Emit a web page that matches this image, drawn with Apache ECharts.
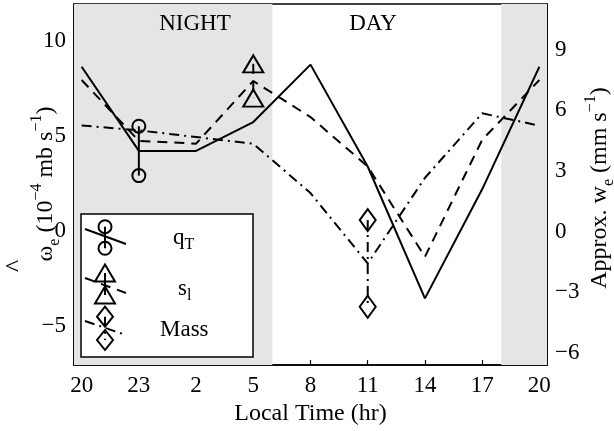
<!DOCTYPE html>
<html>
<head>
<meta charset="utf-8">
<style>
  html, body { margin: 0; padding: 0; background: #fff; }
  #chart { width: 614px; height: 431px; }
</style>
<script src="https://cdn.jsdelivr.net/npm/echarts@6/dist/echarts.min.js"></script>
</head>
<body>
<div id="chart"></div>
<script>
// ---- data ----
const hourLabels = ['20', '23', '2', '5', '8', '11', '14', '17', '20'];
const elapsed = [0, 3, 6, 9, 12, 15, 18, 21, 24];          // hours since 20 LT
const qT   = [8.65, 4.22, 4.22, 5.74, 8.76, 3.4, -3.54, 2.2, 8.65];
const sl   = [7.95, 4.75, 4.6, 7.9, 6.0, 3.4, -1.35, 4.8, 7.95];
const mass = [5.56, 5.3, 4.95, 4.6, 2.0, -1.7, 2.8, 6.2, 5.55];
// error bars: [elapsed, upper, lower]
const qTErr   = [3, 5.52, 2.92];
const slErr   = [9, 8.8, 7.0];
const massErr = [15, 0.58, -3.98];
const nightSpans = [[-0.4, 10], [22, 24.4]];
const leftTicks = [-5, 0, 5, 10];
const rightTicks = [-6, -3, 0, 3, 6, 9];

const FONT = 'Liberation Serif';
const dashed = [10, 7];
const dashDot = [10, 5, 2, 5];

const chart = echarts.init(document.getElementById('chart'), null, { renderer: 'canvas' });

function pairs(ys) { return elapsed.map((x, i) => [x, ys[i]]); }
function errSeries(e, symbol, size, type) {
  return {
    type: 'line',
    data: [[e[0], e[1]], [e[0], e[2]]],
    symbol: symbol,
    symbolSize: size,
    showSymbol: true,
    lineStyle: { color: '#000', width: 2, type: type },
    itemStyle: { color: 'rgba(0,0,0,0)', borderColor: '#000', borderWidth: 2 },
    z: 5,
    silent: true,
    animation: false
  };
}

const lblStyle = { fontFamily: FONT, fontSize: 23, color: '#000' };
const stroke2 = { stroke: '#000', lineWidth: 2, fill: null };

const legendEls = [
  { type: 'rect', shape: { x: 81, y: 214, width: 172, height: 143 }, style: { fill: '#fff', stroke: '#000', lineWidth: 1.5 } },
  // q_T
  { type: 'line', shape: { x1: 85, y1: 229, x2: 126, y2: 244 }, style: { stroke: '#000', lineWidth: 2 } },
  { type: 'line', shape: { x1: 105, y1: 226.7, x2: 105, y2: 248.3 }, style: { stroke: '#000', lineWidth: 2 } },
  { type: 'circle', shape: { cx: 105, cy: 226.7, r: 6.5 }, style: stroke2 },
  { type: 'circle', shape: { cx: 105, cy: 248.3, r: 6.5 }, style: stroke2 },
  { type: 'text', x: 173, y: 238, style: { text: '{n|q}{sub|T}', align: 'left', verticalAlign: 'middle',
    rich: { n: { fontFamily: FONT, fontSize: 23, lineHeight: 30, fill: '#000' }, sub: { fontFamily: FONT, fontSize: 16, lineHeight: 16, verticalAlign: 'bottom', fill: '#000' } } } },
  // s_l
  { type: 'line', shape: { x1: 85, y1: 278, x2: 126, y2: 293 }, style: { stroke: '#000', lineWidth: 2, lineDash: dashed } },
  { type: 'line', shape: { x1: 105, y1: 273, x2: 105, y2: 295 }, style: { stroke: '#000', lineWidth: 2 } },
  { type: 'polygon', shape: { points: [[105, 264.5], [115, 281.5], [95, 281.5]] }, style: stroke2 },
  { type: 'polygon', shape: { points: [[105, 286.5], [115, 303.5], [95, 303.5]] }, style: stroke2 },
  { type: 'text', x: 178, y: 289, style: { text: '{n|s}{sub|l}', align: 'left', verticalAlign: 'middle',
    rich: { n: { fontFamily: FONT, fontSize: 23, lineHeight: 30, fill: '#000' }, sub: { fontFamily: FONT, fontSize: 16, lineHeight: 16, verticalAlign: 'bottom', fill: '#000' } } } },
  // Mass
  { type: 'line', shape: { x1: 85, y1: 321, x2: 126, y2: 335 }, style: { stroke: '#000', lineWidth: 2, lineDash: dashDot } },
  { type: 'line', shape: { x1: 105, y1: 316.7, x2: 105, y2: 340 }, style: { stroke: '#000', lineWidth: 2, lineDash: dashDot } },
  { type: 'polygon', shape: { points: [[105, 306.7], [113, 316.7], [105, 326.7], [97, 316.7]] }, style: stroke2 },
  { type: 'polygon', shape: { points: [[105, 330], [113, 340], [105, 350], [97, 340]] }, style: stroke2 },
  { type: 'text', x: 160, y: 330, style: { text: 'Mass', fontFamily: FONT, fontSize: 23, fill: '#000', align: 'left', verticalAlign: 'middle' } }
].map(el => Object.assign({ z: 100, silent: true }, el));

const option = {
  animation: false,
  backgroundColor: '#fff',
  grid: { left: 74, right: 67, top: 4, bottom: 64, show: true, borderColor: '#000', borderWidth: 1.5, backgroundColor: 'rgba(0,0,0,0)' },
  xAxis: {
    type: 'value',
    min: -0.4, max: 24.4,
    splitLine: { show: false },
    axisLine: { onZero: false, lineStyle: { color: '#000', width: 1.5 } },
    axisTick: { inside: true, length: 5, lineStyle: { color: '#000', width: 1.2 }, customValues: elapsed },
    axisLabel: Object.assign({ margin: 9, customValues: elapsed,
      formatter: function (v) { const i = elapsed.indexOf(v); return i >= 0 ? hourLabels[i] : ''; } }, lblStyle),
    name: 'Local Time (hr)',
    nameLocation: 'middle',
    nameGap: 36,
    nameTextStyle: { fontFamily: FONT, fontSize: 24, color: '#000' }
  },
  yAxis: [
    {
      type: 'value', position: 'left',
      min: -7.05, max: 11.95,
      splitLine: { show: false },
      axisLine: { show: true, onZero: false, lineStyle: { color: '#000', width: 1.5 } },
      axisTick: { show: true, inside: true, length: 5, lineStyle: { color: '#000', width: 1.2 }, customValues: leftTicks },
      axisLabel: Object.assign({ margin: 8, customValues: leftTicks,
        formatter: function (v) { return String(v).replace('-', '\u2212'); } }, lblStyle)
    },
    {
      type: 'value', position: 'right',
      min: -6.62, max: 11.27,
      splitLine: { show: false },
      axisLine: { show: true, onZero: false, lineStyle: { color: '#000', width: 1.5 } },
      axisTick: { show: true, inside: true, length: 5, lineStyle: { color: '#000', width: 1.2 }, customValues: rightTicks },
      axisLabel: Object.assign({ margin: 8, customValues: rightTicks,
        formatter: function (v) { return String(v).replace('-', '\u2212'); } }, lblStyle)
    }
  ],
  series: [
    {
      type: 'line', name: 'qT', data: pairs(qT), showSymbol: false,
      lineStyle: { color: '#000', width: 2, type: 'solid' }, z: 3,
      markArea: {
        silent: true,
        itemStyle: { color: '#e5e5e5' },
        data: nightSpans.map(s => [{ xAxis: s[0] }, { xAxis: s[1] }])
      }
    },
    {
      type: 'line', name: 'sl', data: pairs(sl), showSymbol: false,
      lineStyle: { color: '#000', width: 2, type: dashed }, z: 3
    },
    {
      type: 'line', name: 'Mass', data: pairs(mass), showSymbol: false,
      lineStyle: { color: '#000', width: 2, type: dashDot }, z: 3
    },
    errSeries(qTErr, 'circle', 13, 'solid'),
    errSeries(slErr, 'triangle', [20, 17], dashed),
    errSeries(massErr, 'diamond', [16, 22], dashDot),
    { type: 'line', yAxisIndex: 1, data: [], showSymbol: false }
  ],
  graphic: [
    // NIGHT / DAY
    { type: 'text', x: 195, y: 24, z: 10, style: { text: 'NIGHT', fontFamily: FONT, fontSize: 23, fill: '#000', align: 'center', verticalAlign: 'middle' } },
    { type: 'text', x: 373, y: 24, z: 10, style: { text: 'DAY', fontFamily: FONT, fontSize: 23, fill: '#000', align: 'center', verticalAlign: 'middle' } },
    // left axis title
    { type: 'text', x: 46, y: 184, rotation: Math.PI / 2, z: 10,
      style: { text: '{n|\u03c9}{sub|e}{n| (10}{sup|\u22124}{n| mb s}{sup|\u22121}{n|)}', align: 'center', verticalAlign: 'middle', fill: '#000',
        rich: {
          n: { fontFamily: FONT, fontSize: 24, lineHeight: 34, fill: '#000' },
          sub: { fontFamily: FONT, fontSize: 16, lineHeight: 16, verticalAlign: 'bottom', fill: '#000' },
          sup: { fontFamily: FONT, fontSize: 16, lineHeight: 16, verticalAlign: 'top', fill: '#000' }
        } } },
    { type: 'text', x: 16, y: 266, rotation: Math.PI / 2, z: 10,
      style: { text: '^', fontFamily: FONT, fontSize: 26, fill: '#000', align: 'center', verticalAlign: 'middle' } },
    // right axis title
    { type: 'text', x: 600, y: 188, rotation: Math.PI / 2, z: 10,
      style: { text: '{n|Approx. w}{sub|e}{n| (mm s}{sup|\u22121}{n|)}', align: 'center', verticalAlign: 'middle', fill: '#000',
        rich: {
          n: { fontFamily: FONT, fontSize: 24, lineHeight: 34, fill: '#000' },
          sub: { fontFamily: FONT, fontSize: 16, lineHeight: 16, verticalAlign: 'bottom', fill: '#000' },
          sup: { fontFamily: FONT, fontSize: 16, lineHeight: 16, verticalAlign: 'top', fill: '#000' }
        } } }
  ].concat(legendEls)
};
chart.setOption(option);
</script>
</body>
</html>
